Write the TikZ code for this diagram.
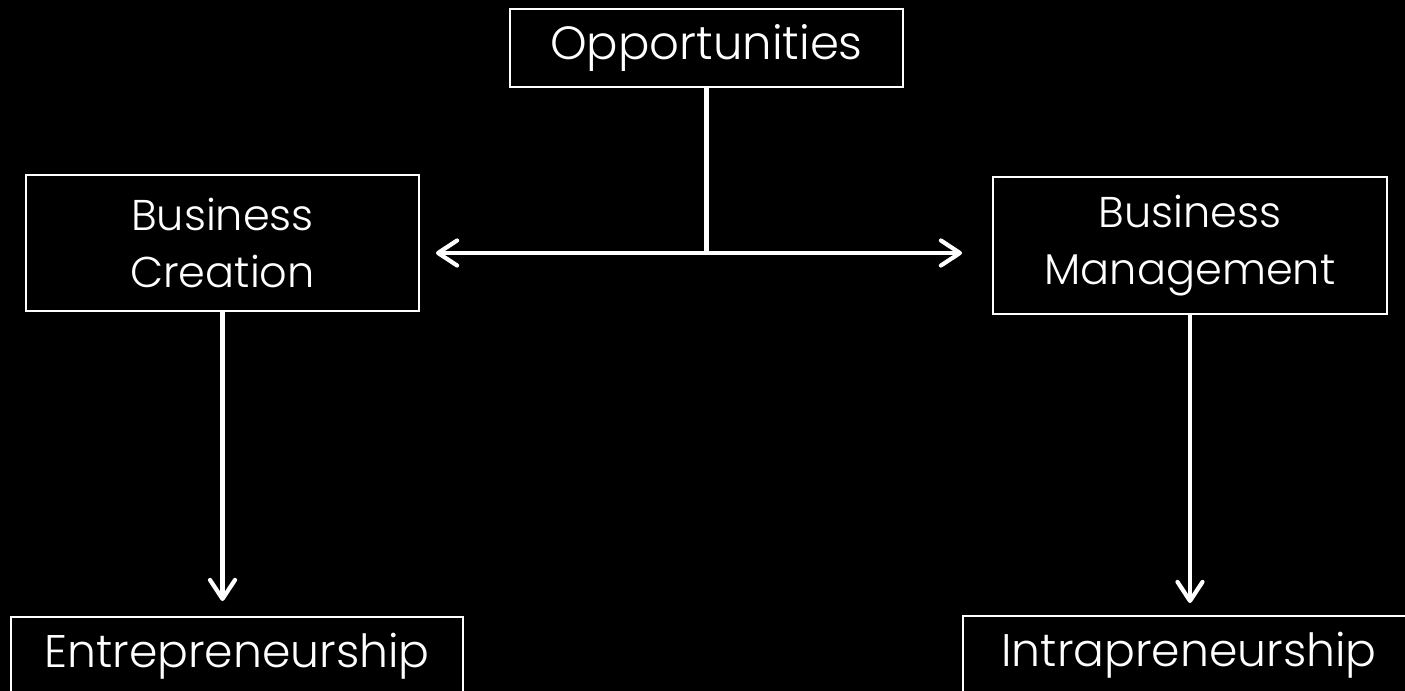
\documentclass[tikz,border=0pt]{standalone}
\usepackage{fontspec}
\setmainfont{Poppins Light}
\usetikzlibrary{arrows.meta}

\begin{document}
\begin{tikzpicture}[
	box/.style={draw=white, line width=1.1pt, text=white, align=center, inner sep=0pt},
	link/.style={draw=white, line width=2.4pt},
	tip/.style={-{Straight Barb[length=3.8mm, width=5mm, round]}},
	]
	%\draw[help lines] (0,0) grid (28,14);
	\fill[black] (0,0) rectangle (28.1,13.82);
	\clip (0,0) rectangle (28.1,13.82);
	\node[box, minimum width=7.86cm, minimum height=1.56cm, font=\fontsize{26.5}{30}\selectfont] (opp) at (14.13,12.86) {Opportunities};
	\node[box, minimum width=7.86cm, minimum height=2.72cm, font=\fontsize{24.5}{32.4}\selectfont] (bc) at (4.45,8.96) {Business\\Creation};
	\node[box, minimum width=7.88cm, minimum height=2.74cm, font=\fontsize{24.5}{32.4}\selectfont] (bm) at (23.8,8.91) {Business\\Management};
	\node[box, minimum width=9.04cm, minimum height=1.56cm, font=\fontsize{26}{30}\selectfont] (ent) at (4.74,0.70) {Entrepreneurship};
	\node[box, minimum width=9.04cm, minimum height=1.56cm, font=\fontsize{26}{30}\selectfont] (intra) at (23.78,0.72) {Intrapreneurship};
	\coordinate (fork) at (14.13,8.76);
	\draw[link] (opp.south) -- (fork);
	\draw[link, tip, shorten >=0.32cm] (fork) -- (fork -| bc.east);
	\draw[link, tip, shorten >=0.6cm] (fork) -- (fork -| bm.west);
	\draw[link, tip, shorten >=0.3cm] (bc.south) -- (bc.south |- ent.north);
	\draw[link, tip, shorten >=0.24cm] (bm.south) -- (bm.south |- intra.north);
\end{tikzpicture}
\end{document}
